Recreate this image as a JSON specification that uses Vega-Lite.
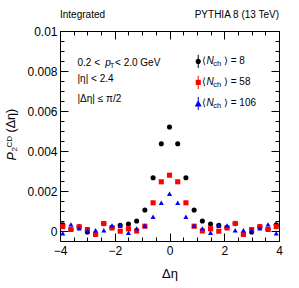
{
 "$schema": "https://vega.github.io/schema/vega-lite/v6.json",
 "width": 219, "height": 210,
 "autosize": {"type": "none"},
 "padding": {"left": 60, "top": 31, "right": 20, "bottom": 47},
 "background": "white",
 "config": {
  "view": {"stroke": "black", "strokeWidth": 1},
  "font": "Liberation Sans",
  "text": {"font": "Liberation Sans", "color": "black"},
  "axis": {"grid": false, "domain": false, "tickColor": "black", "labelColor": "black", "titleColor": "black", "labelFont": "Liberation Sans", "titleFont": "Liberation Sans", "titleFontWeight": "normal", "labelOverlap": false, "labelFlush": false}
 },
 "data": {"values": [
  {"deta": -3.9, "p2": 0.00031, "s": "8"}, {"deta": -3.6, "p2": 0.00008, "s": "8"}, {"deta": -3.3, "p2": 0.00021, "s": "8"}, {"deta": -3.0, "p2": -0.00005, "s": "8"}, {"deta": -2.7, "p2": -0.00017, "s": "8"}, {"deta": -2.4, "p2": 0.00037, "s": "8"}, {"deta": -2.1, "p2": 0.00016, "s": "8"}, {"deta": -1.8, "p2": 0.00028, "s": "8"}, {"deta": -1.5, "p2": 0.00035, "s": "8"}, {"deta": -1.2, "p2": 0.0005, "s": "8"}, {"deta": -0.9, "p2": 0.00105, "s": "8"}, {"deta": -0.6, "p2": 0.00266, "s": "8"}, {"deta": -0.3, "p2": 0.00436, "s": "8"}, {"deta": 0, "p2": 0.0052, "s": "8"}, {"deta": 0.3, "p2": 0.00436, "s": "8"}, {"deta": 0.6, "p2": 0.00266, "s": "8"}, {"deta": 0.9, "p2": 0.00105, "s": "8"}, {"deta": 1.2, "p2": 0.0005, "s": "8"}, {"deta": 1.5, "p2": 0.00035, "s": "8"}, {"deta": 1.8, "p2": 0.00028, "s": "8"}, {"deta": 2.1, "p2": 0.00016, "s": "8"}, {"deta": 2.4, "p2": 0.00037, "s": "8"}, {"deta": 2.7, "p2": -0.00017, "s": "8"}, {"deta": 3.0, "p2": -0.00005, "s": "8"}, {"deta": 3.3, "p2": 0.00021, "s": "8"}, {"deta": 3.6, "p2": 0.00008, "s": "8"}, {"deta": 3.9, "p2": 0.00031, "s": "8"},
  {"deta": -3.9, "p2": 0.00022, "s": "58"}, {"deta": -3.6, "p2": 0.00008, "s": "58"}, {"deta": -3.3, "p2": 0.00021, "s": "58"}, {"deta": -3.0, "p2": 0.00007, "s": "58"}, {"deta": -2.7, "p2": -0.00017, "s": "58"}, {"deta": -2.4, "p2": 0.000375, "s": "58"}, {"deta": -2.1, "p2": 0.00016, "s": "58"}, {"deta": -1.8, "p2": -0.00001, "s": "58"}, {"deta": -1.5, "p2": 0.00011, "s": "58"}, {"deta": -1.2, "p2": 0.0, "s": "58"}, {"deta": -0.9, "p2": 0.00024, "s": "58"}, {"deta": -0.6, "p2": 0.00141, "s": "58"}, {"deta": -0.3, "p2": 0.00246, "s": "58"}, {"deta": 0, "p2": 0.00279, "s": "58"}, {"deta": 0.3, "p2": 0.00246, "s": "58"}, {"deta": 0.6, "p2": 0.00141, "s": "58"}, {"deta": 0.9, "p2": 0.00024, "s": "58"}, {"deta": 1.2, "p2": 0.0, "s": "58"}, {"deta": 1.5, "p2": 0.00011, "s": "58"}, {"deta": 1.8, "p2": -0.00001, "s": "58"}, {"deta": 2.1, "p2": 0.00016, "s": "58"}, {"deta": 2.4, "p2": 0.000375, "s": "58"}, {"deta": 2.7, "p2": -0.00017, "s": "58"}, {"deta": 3.0, "p2": 0.00007, "s": "58"}, {"deta": 3.3, "p2": 0.00021, "s": "58"}, {"deta": 3.6, "p2": 0.00008, "s": "58"}, {"deta": 3.9, "p2": 0.00022, "s": "58"},
  {"deta": -3.9, "p2": -0.00011, "s": "106"}, {"deta": -3.6, "p2": 0.00033, "s": "106"}, {"deta": -3.3, "p2": 0.00013, "s": "106"}, {"deta": -3.0, "p2": 0.00004, "s": "106"}, {"deta": -2.7, "p2": 0.00004, "s": "106"}, {"deta": -2.4, "p2": 0.00004, "s": "106"}, {"deta": -2.1, "p2": 0.00028, "s": "106"}, {"deta": -1.8, "p2": 0.00027, "s": "106"}, {"deta": -1.5, "p2": -0.00009, "s": "106"}, {"deta": -1.2, "p2": 0.00013, "s": "106"}, {"deta": -0.9, "p2": 0.00026, "s": "106"}, {"deta": -0.6, "p2": 0.00071, "s": "106"}, {"deta": -0.3, "p2": 0.00141, "s": "106"}, {"deta": 0, "p2": 0.00186, "s": "106"}, {"deta": 0.3, "p2": 0.00141, "s": "106"}, {"deta": 0.6, "p2": 0.00071, "s": "106"}, {"deta": 0.9, "p2": 0.00026, "s": "106"}, {"deta": 1.2, "p2": 0.00013, "s": "106"}, {"deta": 1.5, "p2": -0.00009, "s": "106"}, {"deta": 1.8, "p2": 0.00027, "s": "106"}, {"deta": 2.1, "p2": 0.00028, "s": "106"}, {"deta": 2.4, "p2": 0.00004, "s": "106"}, {"deta": 2.7, "p2": 0.00004, "s": "106"}, {"deta": 3.0, "p2": 0.00004, "s": "106"}, {"deta": 3.3, "p2": 0.00013, "s": "106"}, {"deta": 3.6, "p2": 0.00033, "s": "106"}, {"deta": 3.9, "p2": -0.00011, "s": "106"}
 ]},
 "resolve": {"axis": {"x": "independent", "y": "independent"}},
 "layer": [
  {
   "mark": {"type": "point", "filled": true, "opacity": 1},
   "encoding": {
    "x": {"field": "deta", "type": "quantitative", "scale": {"domain": [-4, 4], "nice": false, "zero": false},
     "axis": {"orient": "bottom", "values": [-4, -3.5, -3, -2.5, -2, -1.5, -1, -0.5, 0, 0.5, 1, 1.5, 2, 2.5, 3, 3.5, 4],
      "labelExpr": "abs(datum.value % 2) < 0.001 ? format(datum.value, 'd') : ''",
      "tickSize": {"condition": {"test": "abs(datum.value % 2) < 0.001", "value": -8}, "value": -4},
      "labelFontSize": 12, "labelPadding": 12, "labelBaseline": "top", "labelAlign": "center", "title": "Δη", "titleFontSize": 13, "titlePadding": 7}},
    "y": {"field": "p2", "type": "quantitative", "scale": {"domain": [-0.0005, 0.01], "nice": false, "zero": false},
     "axis": {"orient": "left", "values": [0, 0.0005, 0.001, 0.0015, 0.002, 0.0025, 0.003, 0.0035, 0.004, 0.0045, 0.005, 0.0055, 0.006, 0.0065, 0.007, 0.0075, 0.008, 0.0085, 0.009, 0.0095, 0.01],
      "labelExpr": "round(datum.value * 10000) % 20 === 0 ? format(datum.value, '.3~f') : ''",
      "tickSize": {"condition": {"test": "round(datum.value * 10000) % 20 === 0", "value": -8}, "value": -4},
      "labelFontSize": 12, "labelPadding": 11, "labelAlign": "right", "labelBaseline": "middle", "title": null}},
    "color": {"field": "s", "type": "nominal", "scale": {"domain": ["8", "58", "106"], "range": ["#000000", "#ff0000", "#0000ff"]}, "legend": null},
    "shape": {"field": "s", "type": "nominal", "scale": {"domain": ["8", "58", "106"], "range": ["circle", "square", "triangle-up"]}, "legend": null},
    "size": {"field": "s", "type": "ordinal", "scale": {"domain": ["8", "58", "106"], "range": [26, 26, 50]}, "legend": null}
   }
  },
  {
   "mark": {"type": "point", "opacity": 0},
   "encoding": {
    "x": {"field": "deta", "type": "quantitative", "scale": {"domain": [-4, 4], "nice": false, "zero": false},
     "axis": {"orient": "top", "values": [-4, -3.5, -3, -2.5, -2, -1.5, -1, -0.5, 0, 0.5, 1, 1.5, 2, 2.5, 3, 3.5, 4], "labels": false, "title": null,
      "tickSize": {"condition": {"test": "abs(datum.value % 2) < 0.001", "value": -8}, "value": -4}}},
    "y": {"field": "p2", "type": "quantitative", "scale": {"domain": [-0.0005, 0.01], "nice": false, "zero": false},
     "axis": {"orient": "right", "values": [0, 0.0005, 0.001, 0.0015, 0.002, 0.0025, 0.003, 0.0035, 0.004, 0.0045, 0.005, 0.0055, 0.006, 0.0065, 0.007, 0.0075, 0.008, 0.0085, 0.009, 0.0095, 0.01], "labels": false, "title": null,
      "tickSize": {"condition": {"test": "round(datum.value * 10000) % 20 === 0", "value": -8}, "value": -4}}}
   }
  },
  {"data": {"values": [{}]}, "mark": {"type": "text", "align": "left", "baseline": "middle", "fontSize": 12.5, "fontStyle": "italic", "angle": 270, "text": "P"},
   "encoding": {"x": {"datum": -5.76, "type": "quantitative", "axis": null}, "y": {"datum": 0.003525, "type": "quantitative", "axis": null}}},
  {"data": {"values": [{}]}, "mark": {"type": "text", "align": "left", "baseline": "middle", "fontSize": 8, "angle": 270, "text": "2"},
   "encoding": {"x": {"datum": -5.65, "type": "quantitative", "axis": null}, "y": {"datum": 0.003975, "type": "quantitative", "axis": null}}},
  {"data": {"values": [{}]}, "mark": {"type": "text", "align": "left", "baseline": "middle", "fontSize": 8, "angle": 270, "text": "CD"},
   "encoding": {"x": {"datum": -5.83, "type": "quantitative", "axis": null}, "y": {"datum": 0.004175, "type": "quantitative", "axis": null}}},
  {"data": {"values": [{}]}, "mark": {"type": "text", "align": "left", "baseline": "middle", "fontSize": 12.5, "angle": 270, "text": "(Δη)"},
   "encoding": {"x": {"datum": -5.79, "type": "quantitative", "axis": null}, "y": {"datum": 0.004925, "type": "quantitative", "axis": null}}},
  {"data": {"values": [{}]}, "mark": {"type": "text", "align": "left", "baseline": "middle", "fontSize": 10, "text": "Integrated"},
   "encoding": {"x": {"datum": -4, "type": "quantitative", "axis": null}, "y": {"datum": 0.01078, "type": "quantitative", "axis": null}}},
  {"data": {"values": [{}]}, "mark": {"type": "text", "align": "right", "baseline": "middle", "fontSize": 10, "text": "PYTHIA 8 (13 TeV)"},
   "encoding": {"x": {"datum": 4, "type": "quantitative", "axis": null}, "y": {"datum": 0.01078, "type": "quantitative", "axis": null}}},
  {"data": {"values": [{}]}, "mark": {"type": "text", "align": "left", "baseline": "middle", "fontSize": 10, "text": "0.2 <"},
   "encoding": {"x": {"datum": -3.36, "type": "quantitative", "axis": null}, "y": {"datum": 0.00841, "type": "quantitative", "axis": null}}},
  {"data": {"values": [{}]}, "mark": {"type": "text", "align": "left", "baseline": "middle", "fontSize": 10, "fontStyle": "italic", "text": "p"},
   "encoding": {"x": {"datum": -2.35, "type": "quantitative", "axis": null}, "y": {"datum": 0.00841, "type": "quantitative", "axis": null}}},
  {"data": {"values": [{}]}, "mark": {"type": "text", "align": "left", "baseline": "middle", "fontSize": 7, "text": "T", "dy": 3},
   "encoding": {"x": {"datum": -2.17, "type": "quantitative", "axis": null}, "y": {"datum": 0.00841, "type": "quantitative", "axis": null}}},
  {"data": {"values": [{}]}, "mark": {"type": "text", "align": "left", "baseline": "middle", "fontSize": 10, "text": "< 2.0 GeV"},
   "encoding": {"x": {"datum": -1.99, "type": "quantitative", "axis": null}, "y": {"datum": 0.00841, "type": "quantitative", "axis": null}}},
  {"data": {"values": [{}]}, "mark": {"type": "text", "align": "left", "baseline": "middle", "fontSize": 10, "text": "|η| < 2.4"},
   "encoding": {"x": {"datum": -3.36, "type": "quantitative", "axis": null}, "y": {"datum": 0.00758, "type": "quantitative", "axis": null}}},
  {"data": {"values": [{}]}, "mark": {"type": "text", "align": "left", "baseline": "middle", "fontSize": 10, "text": "|Δη| ≤ π/2"},
   "encoding": {"x": {"datum": -3.36, "type": "quantitative", "axis": null}, "y": {"datum": 0.00658, "type": "quantitative", "axis": null}}},

  {"data": {"values": [{}]}, "mark": {"type": "rule", "color": "black", "strokeWidth": 1},
   "encoding": {"x": {"datum": 1.05, "type": "quantitative", "axis": null}, "y": {"datum": 0.00815, "type": "quantitative", "axis": null}, "y2": {"datum": 0.00881}}},
  {"data": {"values": [{}]}, "mark": {"type": "point", "shape": "circle", "filled": true, "color": "black", "size": 26, "opacity": 1},
   "encoding": {"x": {"datum": 1.05, "type": "quantitative", "axis": null}, "y": {"datum": 0.00848, "type": "quantitative", "axis": null}}},
  {"data": {"values": [{}]}, "mark": {"type": "text", "align": "left", "baseline": "middle", "fontSize": 10, "text": "⟨"},
   "encoding": {"x": {"datum": 1.17, "type": "quantitative", "axis": null}, "y": {"datum": 0.00848, "type": "quantitative", "axis": null}}},
  {"data": {"values": [{}]}, "mark": {"type": "text", "align": "left", "baseline": "middle", "fontSize": 10, "fontStyle": "italic", "text": "N"},
   "encoding": {"x": {"datum": 1.35, "type": "quantitative", "axis": null}, "y": {"datum": 0.00848, "type": "quantitative", "axis": null}}},
  {"data": {"values": [{}]}, "mark": {"type": "text", "align": "left", "baseline": "middle", "fontSize": 7.5, "text": "ch", "dy": 3},
   "encoding": {"x": {"datum": 1.6, "type": "quantitative", "axis": null}, "y": {"datum": 0.00848, "type": "quantitative", "axis": null}}},
  {"data": {"values": [{}]}, "mark": {"type": "text", "align": "left", "baseline": "middle", "fontSize": 10, "text": "⟩ = 8"},
   "encoding": {"x": {"datum": 1.99, "type": "quantitative", "axis": null}, "y": {"datum": 0.00848, "type": "quantitative", "axis": null}}},

  {"data": {"values": [{}]}, "mark": {"type": "rule", "color": "#ff0000", "strokeWidth": 1},
   "encoding": {"x": {"datum": 1.05, "type": "quantitative", "axis": null}, "y": {"datum": 0.0071, "type": "quantitative", "axis": null}, "y2": {"datum": 0.00776}}},
  {"data": {"values": [{}]}, "mark": {"type": "point", "shape": "square", "filled": true, "color": "#ff0000", "size": 26, "opacity": 1},
   "encoding": {"x": {"datum": 1.05, "type": "quantitative", "axis": null}, "y": {"datum": 0.00743, "type": "quantitative", "axis": null}}},
  {"data": {"values": [{}]}, "mark": {"type": "text", "align": "left", "baseline": "middle", "fontSize": 10, "text": "⟨"},
   "encoding": {"x": {"datum": 1.17, "type": "quantitative", "axis": null}, "y": {"datum": 0.00743, "type": "quantitative", "axis": null}}},
  {"data": {"values": [{}]}, "mark": {"type": "text", "align": "left", "baseline": "middle", "fontSize": 10, "fontStyle": "italic", "text": "N"},
   "encoding": {"x": {"datum": 1.35, "type": "quantitative", "axis": null}, "y": {"datum": 0.00743, "type": "quantitative", "axis": null}}},
  {"data": {"values": [{}]}, "mark": {"type": "text", "align": "left", "baseline": "middle", "fontSize": 7.5, "text": "ch", "dy": 3},
   "encoding": {"x": {"datum": 1.6, "type": "quantitative", "axis": null}, "y": {"datum": 0.00743, "type": "quantitative", "axis": null}}},
  {"data": {"values": [{}]}, "mark": {"type": "text", "align": "left", "baseline": "middle", "fontSize": 10, "text": "⟩ = 58"},
   "encoding": {"x": {"datum": 1.99, "type": "quantitative", "axis": null}, "y": {"datum": 0.00743, "type": "quantitative", "axis": null}}},

  {"data": {"values": [{}]}, "mark": {"type": "rule", "color": "#0000ff", "strokeWidth": 1},
   "encoding": {"x": {"datum": 1.05, "type": "quantitative", "axis": null}, "y": {"datum": 0.00605, "type": "quantitative", "axis": null}, "y2": {"datum": 0.00671}}},
  {"data": {"values": [{}]}, "mark": {"type": "point", "shape": "triangle-up", "filled": true, "color": "#0000ff", "size": 50, "opacity": 1},
   "encoding": {"x": {"datum": 1.05, "type": "quantitative", "axis": null}, "y": {"datum": 0.00638, "type": "quantitative", "axis": null}}},
  {"data": {"values": [{}]}, "mark": {"type": "text", "align": "left", "baseline": "middle", "fontSize": 10, "text": "⟨"},
   "encoding": {"x": {"datum": 1.17, "type": "quantitative", "axis": null}, "y": {"datum": 0.00638, "type": "quantitative", "axis": null}}},
  {"data": {"values": [{}]}, "mark": {"type": "text", "align": "left", "baseline": "middle", "fontSize": 10, "fontStyle": "italic", "text": "N"},
   "encoding": {"x": {"datum": 1.35, "type": "quantitative", "axis": null}, "y": {"datum": 0.00638, "type": "quantitative", "axis": null}}},
  {"data": {"values": [{}]}, "mark": {"type": "text", "align": "left", "baseline": "middle", "fontSize": 7.5, "text": "ch", "dy": 3},
   "encoding": {"x": {"datum": 1.6, "type": "quantitative", "axis": null}, "y": {"datum": 0.00638, "type": "quantitative", "axis": null}}},
  {"data": {"values": [{}]}, "mark": {"type": "text", "align": "left", "baseline": "middle", "fontSize": 10, "text": "⟩ = 106"},
   "encoding": {"x": {"datum": 1.99, "type": "quantitative", "axis": null}, "y": {"datum": 0.00638, "type": "quantitative", "axis": null}}}
 ]
}
